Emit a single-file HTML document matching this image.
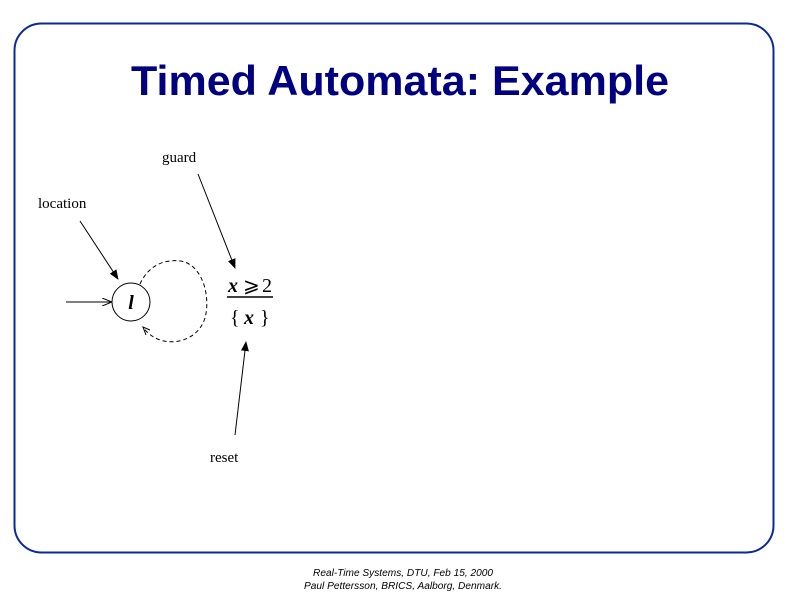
<!DOCTYPE html>
<html><head><style>body{margin:0;background:#fff}svg{display:block}</style></head><body>
<svg width="800" height="600" viewBox="0 0 800 600" xmlns="http://www.w3.org/2000/svg">
<defs><marker id="a" markerWidth="10" markerHeight="8" refX="9" refY="4" orient="auto" markerUnits="userSpaceOnUse"><path d="M0,0 L10,4 L0,8 Z" fill="#000"/></marker>
<marker id="o" markerWidth="10" markerHeight="8" refX="9" refY="4" orient="auto" markerUnits="userSpaceOnUse"><path d="M0,0 L10,4 L0,8" fill="none" stroke="#000"/></marker></defs>
<rect x="14.5" y="23.5" width="759" height="529" rx="27" fill="none" stroke="#0a2a9c" stroke-width="2"/>
<text x="400" y="95" text-anchor="middle" font-family="Liberation Sans" font-weight="bold" font-size="42" fill="#000080" textLength="538" lengthAdjust="spacingAndGlyphs">Timed Automata: Example</text>
<g font-family="Liberation Serif" font-size="15" fill="#000">
<text x="162" y="162">guard</text>
<text x="38" y="208">location</text>
<text x="210" y="462">reset</text>
</g>
<line x1="80" y1="221" x2="118" y2="279" stroke="#000" marker-end="url(#a)"/>
<line x1="198" y1="174" x2="235" y2="268" stroke="#000" marker-end="url(#a)"/>
<line x1="235" y1="435" x2="246" y2="342" stroke="#000" marker-end="url(#a)"/>
<line x1="66" y1="302" x2="111" y2="302" stroke="#000" marker-end="url(#o)"/>
<circle cx="131" cy="302" r="19" fill="none" stroke="#000"/>
<text x="131" y="309" text-anchor="middle" font-family="Liberation Serif" font-style="italic" font-weight="bold" font-size="20">l</text>
<path d="M140,284 C150,262 170,258 185,262 C205,270 210,300 205,318 C198,340 175,345 160,340 C152,337 146,332 143,327" fill="none" stroke="#000" stroke-dasharray="4,3"/>
<path d="M150,330 L143,327 L146,335" fill="none" stroke="#000"/>
<g font-family="Liberation Serif" font-size="20" fill="#000">
<text x="228" y="292" font-style="italic" font-weight="bold">x</text>
<text x="243" y="292">⩾</text>
<text x="262" y="292">2</text>
<line x1="227" y1="297" x2="273" y2="297" stroke="#000" stroke-width="1.5"/>
<text x="230" y="324">{</text>
<text x="244" y="324" font-style="italic" font-weight="bold">x</text>
<text x="260" y="324">}</text>
</g>
<g font-family="Liberation Sans" font-style="italic" font-size="10" fill="#000" text-anchor="middle">
<text x="403" y="576" textLength="180" lengthAdjust="spacingAndGlyphs">Real-Time Systems, DTU, Feb 15, 2000</text>
<text x="403" y="589" textLength="198" lengthAdjust="spacingAndGlyphs">Paul Pettersson, BRICS, Aalborg, Denmark.</text>
</g>
</svg>
</body></html>
